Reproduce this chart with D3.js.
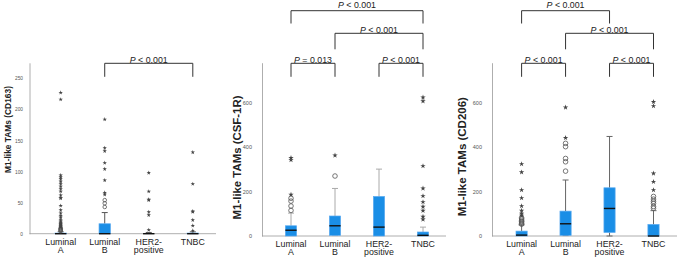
<!DOCTYPE html>
<html>
<head>
<meta charset="utf-8">
<script src="https://cdn.jsdelivr.net/npm/d3@7"></script>
<style>
  body { margin: 0; background: #fff; }
  svg { display: block; }
</style>
</head>
<body>
<div class="chart"></div>
<script>
// Categories (two label lines each)
const categories = ["Luminal A", "Luminal B", "HER2-positive", "TNBC"];
const categoryLines = [["Luminal", "A"], ["Luminal", "B"], ["HER2-", "positive"], ["TNBC"]];

// Boxes: [lower whisker, Q1, median, Q3, upper whisker]
const cd163Box = [[0, 0, 0, 1, 3], [0, 0, 0, 16, 34], [0, 0, 0, 0, 2], [0, 0, 0, 1, 3]];
const cd163Circles = [[4, 5, 6, 7, 8, 9], [43, 49, 54], [], []];
const cd163Stars = [
  [10, 11, 12, 13, 14, 15, 16, 17, 18, 20, 22, 26, 29, 33, 38, 45, 57, 58, 62, 68, 72, 76, 80, 84, 88, 91, 94, 216, 227],
  [63, 66, 86, 104, 114, 133, 138, 184],
  [6, 30, 35, 54, 55, 68, 98],
  [5, 13, 22, 35, 36, 80, 131]
];
const cd163Ticks = [0, 50, 100, 150, 200, 250];
const cd163Pairs = [[1, 3]];
const cd163PText = ["< 0.001"];
const cd163PLevel = [0];

const csf1rBox = [[0, 0, 26, 46, 103], [2, 3, 46, 90, 214], [0, 0, 40, 178, 301], [0, 0, 3, 18, 40]];
const csf1rCircles = [[115, 135, 157, 170], [270], [], []];
const csf1rStars = [[186, 342, 352], [363], [], [75, 87, 114, 132, 153, 180, 214, 315, 607, 624]];
const csf1rTicks = [0, 200, 400, 600];
const csf1rPairs = [[0, 1], [2, 3], [1, 3], [0, 3]];
const csf1rPText = ["= 0.013", "< 0.001", "< 0.001", "< 0.001"];
const csf1rPLevel = [0, 0, 1, 2];

const cd206Box = [[0, 0, 4, 22, 50], [2, 3, 55, 112, 252], [0, 16, 124, 217, 448], [0, 0, 0, 52, 114]];
const cd206Circles = [[53, 57, 63, 66, 71, 77, 82], [292, 334, 349, 402, 417], [], [125, 133, 147, 156, 166, 178]];
const cd206Stars = [[92, 101, 114, 135, 171, 207, 287, 324], [442, 579], [], [207, 244, 282, 585, 604]];
const cd206Ticks = [0, 200, 400, 600];
const cd206Pairs = [[0, 1], [2, 3], [1, 3], [0, 2]];
const cd206PText = ["< 0.001", "< 0.001", "< 0.001", "< 0.001"];
const cd206PLevel = [0, 0, 1, 2];

const svg = d3.select(".chart").append("svg")
  .attr("width", 685)
  .attr("height", 257);

// bracket levels: horizontal y, leg bottom, text baseline
const bracketY = [63.3, 33.3, 10.7];
const bracketLeg = [76.8, 49.3, 23.5];
const bracketText = [62.6, 32.6, 8.4];

const panels = [
  { title: "M1-like TAMs (CD163)", box: cd163Box, circles: cd163Circles, stars: cd163Stars,
    ticks: cd163Ticks, pairs: cd163Pairs, ptext: cd163PText, plevel: cd163PLevel,
    yMax: 275, yRange: [233.7, 62.8], xRange: [60.7, 192.8], axisX: 29.5, axisEnd: 216,
    tickPad: 6.5, tickFont: 4.8, titleX: 8.5, titleY: 129.5, titleFont: 8.4,
    boxW: 11.4, r: 1.8, starSize: 6, whisker: "#555" },
  { title: "M1-like TAMs (CSF-1R)", box: csf1rBox, circles: csf1rCircles, stars: csf1rStars,
    ticks: csf1rTicks, pairs: csf1rPairs, ptext: csf1rPText, plevel: csf1rPLevel,
    yMax: 780, yRange: [236, 62.7], xRange: [291, 423], axisX: 262, axisEnd: 446,
    tickPad: 10, tickFont: 5.5, titleX: 236.5, titleY: 157.5, titleFont: 11.4,
    boxW: 11.2, r: 2.3, starSize: 9, whisker: "#aaa" },
  { title: "M1-like TAMs (CD206)", box: cd206Box, circles: cd206Circles, stars: cd206Stars,
    ticks: cd206Ticks, pairs: cd206Pairs, ptext: cd206PText, plevel: cd206PLevel,
    yMax: 780, yRange: [236, 62.7], xRange: [521.6, 653.5], axisX: 492, axisEnd: 677,
    tickPad: 10, tickFont: 5.5, titleX: 461.5, titleY: 156.7, titleFont: 11.5,
    boxW: 11.2, r: 2.3, starSize: 9, whisker: "#666" }
];

panels.forEach(p => drawPanel(p));

function drawPanel(p) {
  const g = svg.append("g");

  const x = d3.scalePoint()
    .domain(categories)
    .range(p.xRange);
  const y = d3.scaleLinear()
    .domain([0, p.yMax])
    .range(p.yRange);

  // y axis
  const yAxis = d3.axisLeft(y)
    .tickValues(p.ticks)
    .tickSize(0)
    .tickSizeOuter(0)
    .tickPadding(p.tickPad);
  const ya = g.append("g")
    .attr("transform", `translate(${p.axisX},0)`)
    .call(yAxis);
  ya.select(".domain").attr("stroke", "#999").attr("stroke-width", 0.8);
  ya.selectAll("text")
    .attr("font-family", "Liberation Sans, Arial, sans-serif")
    .attr("font-size", p.tickFont)
    .attr("fill", "#555");

  // x axis line
  g.append("line")
    .attr("x1", p.axisX).attr("x2", p.axisEnd)
    .attr("y1", y(0)).attr("y2", y(0))
    .attr("stroke", "#999")
    .attr("stroke-width", 0.8);

  // category labels
  categories.forEach((c, i) => {
    const t = g.append("text")
      .attr("x", x(c))
      .attr("y", y(0) + 11.2)
      .attr("text-anchor", "middle")
      .attr("font-family", "Liberation Sans, Arial, sans-serif")
      .attr("font-size", 8.8)
      .attr("fill", "#222");
    categoryLines[i].forEach((line, k) => {
      t.append("tspan")
        .attr("x", x(c))
        .attr("dy", k === 0 ? 0 : 8.2)
        .text(line);
    });
  });

  // y title
  g.append("text")
    .attr("transform", `translate(${p.titleX},${p.titleY}) rotate(-90)`)
    .attr("text-anchor", "middle")
    .attr("dy", "0.35em")
    .attr("font-family", "Liberation Sans, Arial, sans-serif")
    .attr("font-weight", "bold")
    .attr("font-size", p.titleFont)
    .attr("fill", "#222")
    .text(p.title);

  // boxes
  categories.forEach((c, i) => {
    const [lo, q1, med, q3, hi] = p.box[i];
    const cx = x(c);
    const hw = p.boxW / 2;

    // whiskers
    if (hi > q3) {
      g.append("line")
        .attr("x1", cx).attr("x2", cx)
        .attr("y1", y(q3)).attr("y2", y(hi))
        .attr("stroke", p.whisker).attr("stroke-width", 1);
      g.append("line")
        .attr("x1", cx - 3).attr("x2", cx + 3)
        .attr("y1", y(hi)).attr("y2", y(hi))
        .attr("stroke", p.whisker).attr("stroke-width", 1);
    }
    if (lo < q1) {
      g.append("line")
        .attr("x1", cx).attr("x2", cx)
        .attr("y1", y(q1)).attr("y2", y(lo))
        .attr("stroke", p.whisker).attr("stroke-width", 1);
      g.append("line")
        .attr("x1", cx - 3).attr("x2", cx + 3)
        .attr("y1", y(lo)).attr("y2", y(lo))
        .attr("stroke", p.whisker).attr("stroke-width", 1);
    }

    g.append("rect")
      .attr("x", cx - hw)
      .attr("y", y(q3))
      .attr("width", p.boxW)
      .attr("height", Math.max(0, y(q1) - y(q3)))
      .attr("fill", "#1a8ee6")
      .attr("stroke", "#5aaaf0")
      .attr("stroke-width", 0.7);

    g.append("line")
      .attr("x1", cx - hw).attr("x2", cx + hw)
      .attr("y1", y(med)).attr("y2", y(med))
      .attr("stroke", "#111")
      .attr("stroke-width", 1.4);

    // outliers
    g.append("g").selectAll("circle")
      .data(p.circles[i])
      .enter()
      .append("circle")
      .attr("cx", cx)
      .attr("cy", d => y(d))
      .attr("r", p.r)
      .attr("fill", "none")
      .attr("stroke", "#555")
      .attr("stroke-width", 0.8);

    g.append("g").selectAll("path")
      .data(p.stars[i])
      .enter()
      .append("path")
      .attr("transform", d => `translate(${cx},${y(d)})`)
      .attr("d", d3.symbol(d3.symbolStar).size(p.starSize))
      .attr("fill", "#444");
  });

  // significance brackets
  p.pairs.forEach((pair, j) => {
    const lv = p.plevel[j];
    const x1 = x(categories[pair[0]]);
    const x2 = x(categories[pair[1]]);
    g.append("path")
      .attr("d", `M${x1},${bracketLeg[lv]}V${bracketY[lv]}H${x2}V${bracketLeg[lv]}`)
      .attr("fill", "none")
      .attr("stroke", "#333")
      .attr("stroke-width", 1);
    const t = g.append("text")
      .attr("x", (x1 + x2) / 2)
      .attr("y", bracketText[lv])
      .attr("text-anchor", "middle")
      .attr("font-family", "Liberation Sans, Arial, sans-serif")
      .attr("font-size", 8.8)
      .attr("fill", "#222");
    t.append("tspan").attr("font-style", "italic").text("P");
    t.append("tspan").text(" " + p.ptext[j]);
  });
}
</script>
</body>
</html>
